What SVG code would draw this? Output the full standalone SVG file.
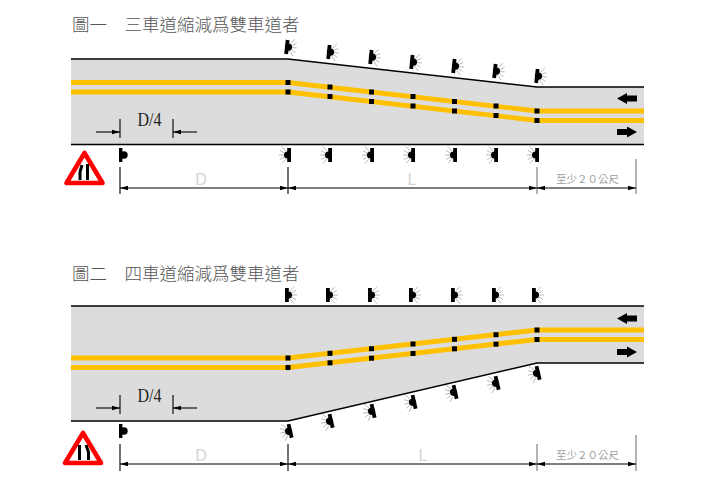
<svg xmlns="http://www.w3.org/2000/svg" width="708" height="500" viewBox="0 0 708 500">
<style>
.road{fill:#dcdcdc;stroke:none}
.edge{fill:none;stroke:#000;stroke-width:1.5}
.yl{fill:none;stroke:#ffc000;stroke-width:4.8}
.dim{stroke:#000;stroke-width:1.1;fill:none}
.dimg{stroke:#777;stroke-width:1.1;fill:none}
.title{font-family:"Noto Sans CJK TC","Liberation Serif",serif;font-size:17.5px;fill:#555;font-weight:300}
.d4{font-family:"Liberation Serif",serif;font-size:18px;fill:#222}
.big{font-family:"Liberation Sans",sans-serif;font-size:16px;fill:#d4d4d4}
.note{font-family:"Noto Sans CJK TC","Liberation Sans",sans-serif;font-size:10.5px;fill:#a0a0a0}
.ray{stroke:#aaa;stroke-width:.8}
.tri{fill:#fff;stroke:#f00;stroke-width:4.6;stroke-linejoin:round}
.bar{fill:none;stroke:#000;stroke-width:3}
</style>
<defs>
<marker id="ah" markerUnits="userSpaceOnUse" markerWidth="9" markerHeight="6" refX="8" refY="3" orient="auto"><path d="M0,0.800 L8,3 L0,5.200 Z" fill="#000"/></marker>
<rect id="m" x="-2.500" y="-2.500" width="5" height="5" fill="#000"/>
<g id="lamp">
<rect x="-2" y="-7" width="3.800" height="14" fill="#000"/>
<circle cx="1.500" cy="0" r="3.600" fill="#000"/>
<path class="ray" d="M5,0H10M4.600,-2L9,-4.500M4.600,2L9,4.500M3.200,-4L7,-8.500M3.200,4L7,8.500"/>
</g>
<g id="lamp0">
<rect x="-1.500" y="-7" width="3.400" height="14" fill="#000"/>
<circle cx="3.500" cy="0" r="3.700" fill="#000"/>
</g>
<path id="la" d="M617,0 L627,-5.500 V-3 H637 V3 H627 V5.500 Z" fill="#000"/>
<path id="ra" d="M637,0 L627,-5.500 V-3 H617 V3 H627 V5.500 Z" fill="#000"/>
</defs>

<g id="fig1">
<text class="title" x="72" y="31">圖一　三車道縮減爲雙車道者</text>
<g id="road1">
<path class="road" d="M71,59H288L537,87H644V144H71Z"/>
<path class="edge" d="M71,59H288L537,87H644"/>
<path class="edge" d="M71,144.500H644"/>
<path class="yl" d="M71,82.500H288L537,111H644"/>
<path class="yl" d="M71,92H288L537,120.500H644"/>
<use href="#la" y="98.500"/>
<use href="#ra" y="132"/>
</g>
<g id="marks1">
<use href="#m" x="288" y="82.500"/><use href="#m" x="288" y="92"/>
<use href="#m" x="330" y="87"/><use href="#m" x="330" y="96.500"/>
<use href="#m" x="371.500" y="92"/><use href="#m" x="371.500" y="101.500"/>
<use href="#m" x="413" y="96.500"/><use href="#m" x="413" y="106"/>
<use href="#m" x="454.500" y="101.500"/><use href="#m" x="454.500" y="111"/>
<use href="#m" x="496" y="106"/><use href="#m" x="496" y="115.500"/>
<use href="#m" x="537" y="111"/><use href="#m" x="537" y="120.500"/>
</g>
<g id="lamps1">
<use href="#lamp" transform="translate(287,47) rotate(6)"/>
<use href="#lamp" transform="translate(329,52) rotate(6)"/>
<use href="#lamp" transform="translate(371,57) rotate(6)"/>
<use href="#lamp" transform="translate(412,62) rotate(6)"/>
<use href="#lamp" transform="translate(454,66) rotate(6)"/>
<use href="#lamp" transform="translate(495,71) rotate(6)"/>
<use href="#lamp" transform="translate(537,76) rotate(6)"/>
<use href="#lamp" transform="translate(289,155) rotate(180)"/>
<use href="#lamp" transform="translate(330,155) rotate(180)"/>
<use href="#lamp" transform="translate(372,155) rotate(180)"/>
<use href="#lamp" transform="translate(413,155) rotate(180)"/>
<use href="#lamp" transform="translate(455,155) rotate(180)"/>
<use href="#lamp" transform="translate(496,155) rotate(180)"/>
<use href="#lamp" transform="translate(537,155) rotate(180)"/>
<use href="#lamp0" x="120.500" y="155"/>
</g>
<g id="sign1">
<path class="tri" d="M84.500,153L66.500,183H102.500Z"/>
<path class="bar" d="M80,180V172L82,165"/>
<path class="bar" d="M87.500,180V164"/>
</g>
<g id="dims1">
<path class="dim" d="M120,119V138M173,119V138M120,167V194M288,167V194"/>
<path class="dimg" d="M537,167V194M636,159V194"/>
<path class="dim" marker-end="url(#ah)" d="M96,132H120"/>
<path class="dim" marker-end="url(#ah)" d="M197,132H173"/>
<path class="dim" marker-end="url(#ah)" d="M204,188H120"/>
<path class="dim" marker-end="url(#ah)" d="M204,188H288"/>
<path class="dim" marker-end="url(#ah)" d="M412,188H288"/>
<path class="dim" marker-end="url(#ah)" d="M412,188H537"/>
<path class="dim" marker-end="url(#ah)" d="M586,188H537"/>
<path class="dim" marker-end="url(#ah)" d="M586,188H636"/>
<text class="d4" x="137.500" y="126" textLength="24" lengthAdjust="spacingAndGlyphs">D/4</text>
<text class="big" x="201" y="185" text-anchor="middle">D</text>
<text class="big" x="412" y="185" text-anchor="middle">L</text>
<text class="note" x="556" y="183">至少２０公尺</text>
</g>
</g>

<g id="fig2">
<text class="title" x="72" y="280">圖二　四車道縮減爲雙車道者</text>
<g id="road2">
<path class="road" d="M71,306H644V363H537L288,421H71Z"/>
<path class="edge" d="M71,306H644"/>
<path class="edge" d="M71,421H288L537,363H644"/>
<path class="yl" d="M71,358H288L537,330H644"/>
<path class="yl" d="M71,367.500H288L537,339.500H644"/>
<use href="#la" y="318.500"/>
<use href="#ra" y="352"/>
</g>
<g id="marks2">
<use href="#m" x="288" y="358"/><use href="#m" x="288" y="367.500"/>
<use href="#m" x="330" y="353.300"/><use href="#m" x="330" y="362.800"/>
<use href="#m" x="371.500" y="348.700"/><use href="#m" x="371.500" y="358.200"/>
<use href="#m" x="413" y="344"/><use href="#m" x="413" y="353.500"/>
<use href="#m" x="454.500" y="339.300"/><use href="#m" x="454.500" y="348.800"/>
<use href="#m" x="496" y="334.700"/><use href="#m" x="496" y="344.200"/>
<use href="#m" x="537" y="330"/><use href="#m" x="537" y="339.500"/>
</g>
<g id="lamps2">
<use href="#lamp" transform="translate(287,295)"/>
<use href="#lamp" transform="translate(328,295)"/>
<use href="#lamp" transform="translate(370,295)"/>
<use href="#lamp" transform="translate(411,295)"/>
<use href="#lamp" transform="translate(453,295)"/>
<use href="#lamp" transform="translate(494,295)"/>
<use href="#lamp" transform="translate(534,295)"/>
<use href="#lamp" transform="translate(290,431) rotate(167)"/>
<use href="#lamp" transform="translate(331,421) rotate(167)"/>
<use href="#lamp" transform="translate(373,411) rotate(167)"/>
<use href="#lamp" transform="translate(414,402) rotate(167)"/>
<use href="#lamp" transform="translate(455,392) rotate(167)"/>
<use href="#lamp" transform="translate(497,383) rotate(167)"/>
<use href="#lamp" transform="translate(538,373) rotate(167)"/>
<use href="#lamp0" x="120.500" y="431"/>
</g>
<g id="sign2">
<path class="tri" d="M83,433L65,463H101Z"/>
<path class="bar" d="M79.500,460V445"/>
<path class="bar" d="M88.500,460V452L86,445"/>
</g>
<g id="dims2">
<path class="dim" d="M120,395V414M173,395V414M120,444V471M288,444V471"/>
<path class="dimg" d="M537,444V471M636,435V471"/>
<path class="dim" marker-end="url(#ah)" d="M96,408H120"/>
<path class="dim" marker-end="url(#ah)" d="M197,408H173"/>
<path class="dim" marker-end="url(#ah)" d="M204,464H120"/>
<path class="dim" marker-end="url(#ah)" d="M204,464H288"/>
<path class="dim" marker-end="url(#ah)" d="M412,464H288"/>
<path class="dim" marker-end="url(#ah)" d="M412,464H537"/>
<path class="dim" marker-end="url(#ah)" d="M586,464H537"/>
<path class="dim" marker-end="url(#ah)" d="M586,464H636"/>
<text class="d4" x="137.500" y="402" textLength="24" lengthAdjust="spacingAndGlyphs">D/4</text>
<text class="big" x="201" y="461" text-anchor="middle">D</text>
<text class="big" x="423" y="461" text-anchor="middle">L</text>
<text class="note" x="556" y="459">至少２０公尺</text>
</g>
</g>
</svg>
